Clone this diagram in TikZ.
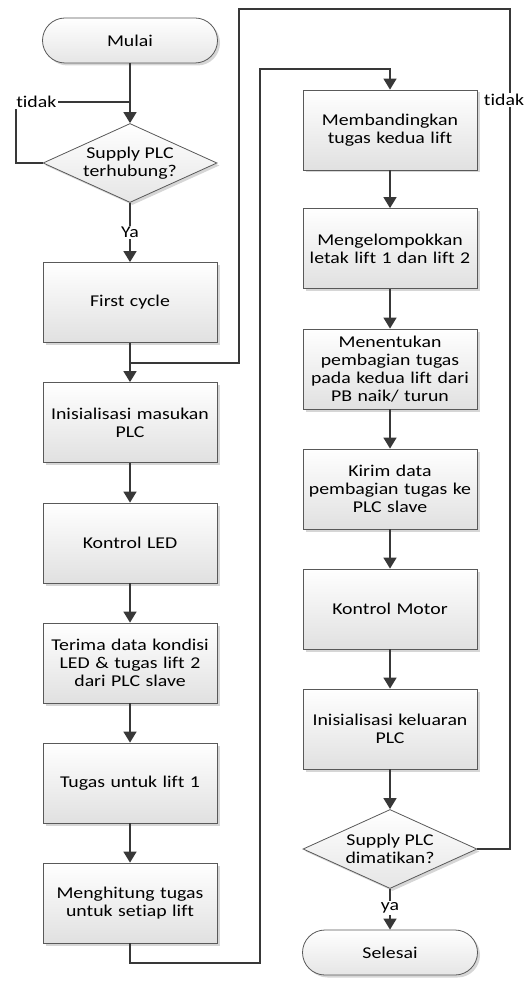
\documentclass[tikz,border=0pt]{standalone}
\usepackage{fontspec}
\setmainfont{Carlito}[FakeStretch=1.2, Ligatures={NoCommon}]
\usetikzlibrary{arrows.meta,shapes.geometric,shapes.misc,shadows}
\begin{document}
\begin{tikzpicture}[x=1pt,y=-1pt,
  every node/.style={font=\fontsize{16.5}{18}\selectfont},
  shad/.style={general shadow={fill=black!16, shadow xshift=2.5pt, shadow yshift=-2.5pt}},
  proc/.style={rectangle, draw=black!65, line width=0.8pt, top color=white, bottom color=black!12,
    minimum width=174pt, minimum height=80pt, inner sep=0pt, align=center, text width=172pt, shad},
  term/.style={rounded rectangle, draw=black!65, line width=0.8pt, top color=white, bottom color=black!10,
    minimum width=175pt, minimum height=45pt, inner sep=0pt, align=center, shad},
  dec/.style={diamond, draw=black!65, line width=0.8pt, top color=white, bottom color=black!10,
    minimum width=174pt, minimum height=79pt, inner sep=0pt, shad},
  dectext/.style={align=center, inner sep=0pt},
  conn/.style={draw=black!78, line width=1.6pt},
  flow/.style={conn, -{Triangle[length=11pt,width=13pt]}},
  lbl/.style={fill=white, inner sep=1.5pt}
]
\useasboundingbox (0,0) rectangle (531,981);

% left column
\node[term] (mulai) at (130,40.5) {Mulai};
\node[dec] (d1) at (130,163) {};
\node[dectext] (d1t) at (d1) {Supply PLC\\terhubung?};
\node[proc] (first) at (130,302.5) {First cycle};
\node[proc] (inis) at (130,422.5) {Inisialisasi masukan\\PLC};
\node[proc] (led) at (130,543) {Kontrol LED};
\node[proc] (terima) at (130,663) {Terima data kondisi\\LED \& tugas lift 2\\dari PLC slave};
\node[proc] (tugas) at (130,783) {Tugas untuk lift 1};
\node[proc] (hitung) at (130,903) {Menghitung tugas\\untuk setiap lift};

% right column
\node[proc] (banding) at (390,130) {Membandingkan\\tugas kedua lift};
\node[proc] (kelompok) at (390,248.5) {Mengelompokkan\\letak lift 1 dan lift 2};
\node[proc] (tentukan) at (390,369) {Menentukan\\pembagian tugas\\pada kedua lift dari\\PB naik/ turun};
\node[proc] (kirim) at (390,489) {Kirim data\\pembagian tugas ke\\PLC slave};
\node[proc] (motor) at (390,609) {Kontrol Motor};
\node[proc] (keluar) at (390,729) {Inisialisasi keluaran\\PLC};
\node[dec] (d2) at (390,849) {};
\node[dectext] (d2t) at (d2) {Supply PLC\\dimatikan?};
\node[term] (selesai) at (390,952.5) {Selesai};

\coordinate (j1) at (130,102);
\coordinate (j2) at (130,363);

% connectors
\draw[flow] (mulai.south) -- (d1.north);
\draw[conn] (d1.west) -- (16,163) -- (16,102) node[lbl, anchor=west, xshift=-2pt] (t1) {tidak} -- (j1);
\draw[flow] (d1.south) -- node[lbl, pos=0.5] (ya1) {Ya} (first.north);
\draw[flow] (first.south) -- (inis.north);
\draw[flow] (inis.south) -- (led.north);
\draw[flow] (led.south) -- (terima.north);
\draw[flow] (terima.south) -- (tugas.north);
\draw[flow] (tugas.south) -- (hitung.north);
\draw[flow] (hitung.south) -- (130,963) -| (260,69) -| (banding.north);
\draw[flow] (banding.south) -- (kelompok.north);
\draw[flow] (kelompok.south) -- (tentukan.north);
\draw[flow] (tentukan.south) -- (kirim.north);
\draw[flow] (kirim.south) -- (motor.north);
\draw[flow] (motor.south) -- (keluar.north);
\draw[flow] (keluar.south) -- (d2.north);
\draw[flow] (d2.south) -- node[lbl, pos=0.47] (ya2) {ya} (selesai.north);
\draw[conn] (d2.east) -- (510,849) |- (239,9) |- (j2);
\node[lbl] (t2) at (504,100) {tidak};
\end{tikzpicture}
\end{document}
